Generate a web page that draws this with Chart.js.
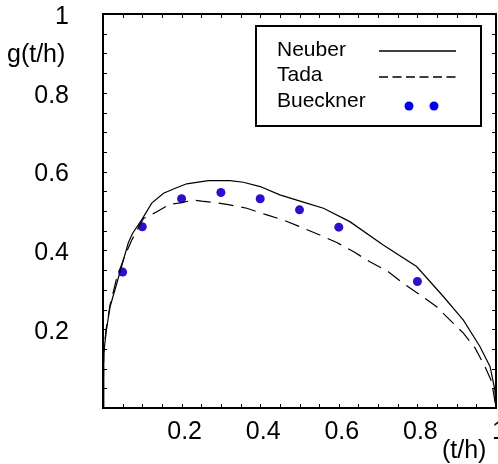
<!DOCTYPE html>
<html>
<head>
<meta charset="utf-8">
<script src="https://cdn.jsdelivr.net/npm/chart.js@4/dist/chart.umd.min.js"></script>
<style>
  html, body { margin: 0; padding: 0; background: #fff; overflow: hidden; }
  #wrap { position: relative; width: 512px; height: 464px; }
</style>
</head>
<body>
<div id="wrap"><canvas id="gChart"></canvas></div>
<script>
// ── Data ────────────────────────────────────────────────────────────
const neuberX = [0, 0.002, 0.008, 0.018, 0.035, 0.052, 0.064, 0.075, 0.098, 0.124, 0.154, 0.187, 0.213, 0.268, 0.323, 0.357, 0.40, 0.45, 0.518, 0.561, 0.628, 0.713, 0.798, 0.866, 0.917, 0.959, 0.985, 0.997, 1];
const neuberY = [0, 0.139, 0.194, 0.257, 0.316, 0.376, 0.418, 0.443, 0.477, 0.520, 0.545, 0.559, 0.569, 0.577, 0.577, 0.573, 0.562, 0.541, 0.520, 0.507, 0.473, 0.414, 0.359, 0.283, 0.223, 0.156, 0.105, 0.046, 0];

const tadaX = [0, 0.002, 0.008, 0.018, 0.035, 0.055, 0.073, 0.103, 0.137, 0.17, 0.20, 0.23, 0.251, 0.281, 0.315, 0.366, 0.417, 0.459, 0.506, 0.552, 0.595, 0.637, 0.679, 0.726, 0.764, 0.807, 0.849, 0.883, 0.917, 0.947, 0.972, 0.989, 1];
const tadaY = [0, 0.14, 0.20, 0.262, 0.33, 0.385, 0.426, 0.481, 0.498, 0.517, 0.521, 0.528, 0.525, 0.522, 0.517, 0.507, 0.490, 0.477, 0.458, 0.439, 0.420, 0.397, 0.371, 0.346, 0.316, 0.287, 0.257, 0.223, 0.190, 0.152, 0.105, 0.067, 0];

const buecknerX = [0.05, 0.1, 0.2, 0.3, 0.4, 0.5, 0.6, 0.8];
const buecknerY = [0.345, 0.46, 0.531, 0.547, 0.531, 0.503, 0.459, 0.321];

const xTickLabels = ['', '0.2', '0.4', '0.6', '0.8', '1'];
const yTickLabels = ['', '0.2', '0.4', '0.6', '0.8', '1'];
const seriesNames = ['Neuber', 'Tada', 'Bueckner'];

const toPts = (xs, ys) => xs.map((x, i) => ({ x: x, y: ys[i] }));
const FONT = '"Liberation Sans", Arial, sans-serif';
const DOT = '#2a12cc';

// ── Frame, inward ticks, axis names, boxed legend ───────────────────
const decor = {
  id: 'decor',
  afterDraw(chart) {
    const c = chart.ctx, a = chart.chartArea;
    const xs = chart.scales.x, ys = chart.scales.y;
    c.save();
    c.strokeStyle = '#000';
    c.lineWidth = 1;
    c.beginPath();
    for (let i = 1; i < 20; i++) {
      const px = Math.round(xs.getPixelForValue(i * 0.05)) + 0.5;
      const py = Math.round(ys.getPixelForValue(i * 0.05)) + 0.5;
      c.moveTo(px, a.bottom); c.lineTo(px, a.bottom - 4);
      c.moveTo(px, a.top); c.lineTo(px, a.top + 4);
      c.moveTo(a.left, py); c.lineTo(a.left + 4, py);
      c.moveTo(a.right, py); c.lineTo(a.right - 4, py);
    }
    c.stroke();
    c.lineWidth = 2;
    c.strokeRect(a.left, a.top, a.right - a.left, a.bottom - a.top);

    // axis names
    c.fillStyle = '#000';
    c.font = '25px ' + FONT;
    c.textBaseline = 'middle';
    c.textAlign = 'left';
    c.fillText('g(t/h)', 7, 55);
    c.fillText('(t/h)', a.right - 54, a.bottom + 43);

    // legend box
    const lx = a.left + 153, ly = a.top + 12;
    c.lineWidth = 2;
    c.strokeRect(lx, ly, 225, 100);
    c.font = '21px ' + FONT;
    const rows = [ly + 24, ly + 49, ly + 75];
    seriesNames.forEach((n, i) => c.fillText(n, lx + 21, rows[i]));
    c.lineWidth = 1.3;
    c.beginPath();
    c.moveTo(lx + 123, rows[0] + 1); c.lineTo(lx + 200, rows[0] + 1);
    c.stroke();
    c.setLineDash([9, 4.5]);
    c.beginPath();
    c.moveTo(lx + 123, rows[1] + 2); c.lineTo(lx + 200, rows[1] + 2);
    c.stroke();
    c.setLineDash([]);
    c.fillStyle = '#0000ee';
    [lx + 153, lx + 178].forEach(dx => {
      c.beginPath(); c.arc(dx, rows[2] + 5, 4.5, 0, Math.PI * 2); c.fill();
    });
    c.restore();
  }
};

new Chart(document.getElementById('gChart'), {
  type: 'scatter',
  data: {
    datasets: [
      {
        label: seriesNames[0],
        data: toPts(neuberX, neuberY),
        showLine: true,
        borderColor: '#000',
        borderWidth: 1.2,
        pointRadius: 0,
        tension: 0,
      },
      {
        label: seriesNames[1],
        data: toPts(tadaX, tadaY),
        showLine: true,
        borderColor: '#000',
        borderWidth: 1.2,
        borderDash: [15, 8],
        pointRadius: 0,
        tension: 0,
      },
      {
        label: seriesNames[2],
        data: toPts(buecknerX, buecknerY),
        showLine: false,
        backgroundColor: DOT,
        borderColor: DOT,
        pointRadius: 4.5,
        pointBorderWidth: 0,
      }
    ]
  },
  options: {
    responsive: true,
    maintainAspectRatio: false,
    animation: false,
    events: [],
    layout: { padding: { top: 14, right: 16, bottom: 0, left: 0 } },
    plugins: { legend: { display: false }, tooltip: { enabled: false } },
    scales: {
      x: {
        type: 'linear', min: 0, max: 1,
        grid: { display: false, drawTicks: false },
        border: { display: false },
        ticks: {
          stepSize: 0.2, color: '#000', padding: 9, labelOffset: 3,
          maxRotation: 0, autoSkip: false,
          font: { family: FONT, size: 25, lineHeight: 1.2 },
          callback: (v, i) => xTickLabels[i]
        },
        afterFit: s => { s.height = 56; s.paddingLeft = 0; s.paddingRight = 0; }
      },
      y: {
        type: 'linear', min: 0, max: 1,
        grid: { display: false, drawTicks: false },
        border: { display: false },
        ticks: {
          stepSize: 0.2, color: '#000', padding: 34, labelOffset: 3,
          font: { family: FONT, size: 25, lineHeight: 1 },
          callback: (v, i) => yTickLabels[i]
        },
        afterFit: s => { s.width = 103; s.paddingTop = 0; s.paddingBottom = 0; }
      }
    }
  },
  plugins: [decor]
});
</script>
</body>
</html>
